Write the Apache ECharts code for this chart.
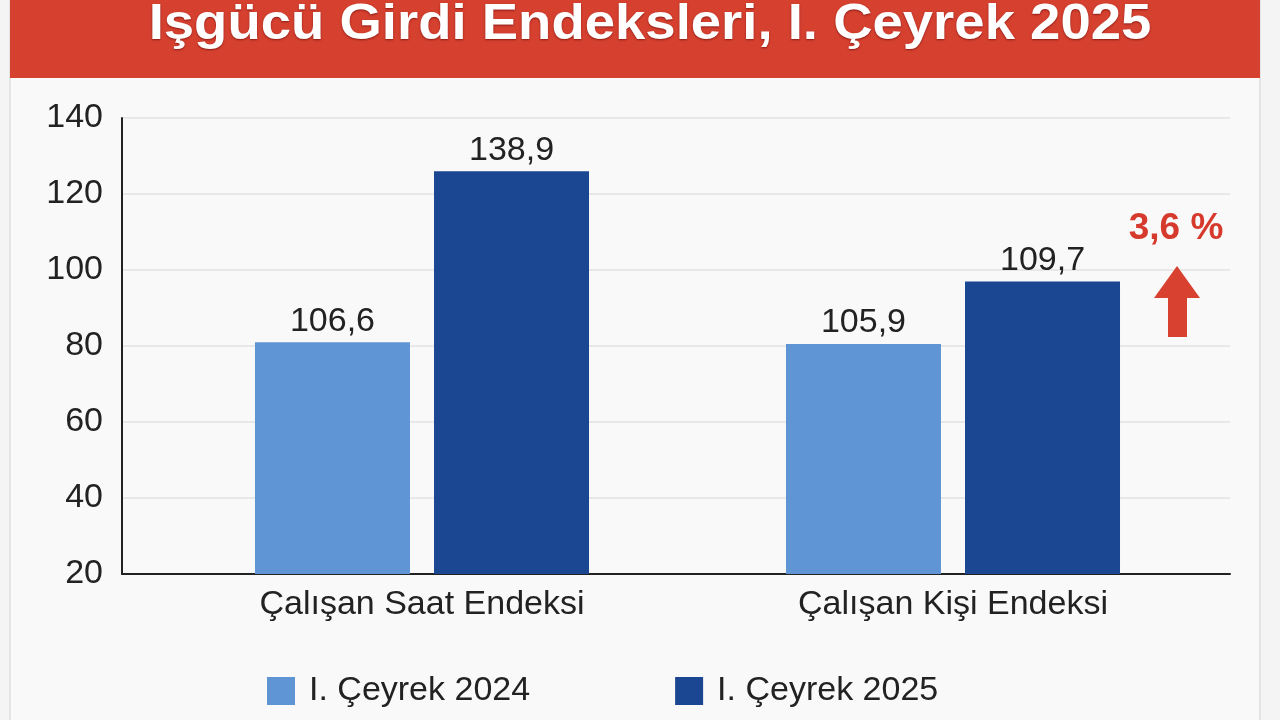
<!DOCTYPE html>
<html>
<head>
<meta charset="utf-8">
<script src="https://cdn.jsdelivr.net/npm/echarts@6/dist/echarts.min.js"></script>
<style>
html,body{margin:0;padding:0;background:#f4f4f4;}
#c{width:1280px;height:720px;}
</style>
</head>
<body>
<div id="c"></div>
<script>
const titleText = 'Işgücü Girdi Endeksleri, I. Çeyrek 2025';
const categories = ['Çalışan Saat Endeksi', 'Çalışan Kişi Endeksi'];
const seriesNames = ['I. Çeyrek 2024', 'I. Çeyrek 2025'];
// bar heights as drawn against the axis in the reference
const bars2024 = [81, 80.5];
const bars2025 = [126, 97];
// value labels printed above the bars
const labels2024 = ['106,6', '105,9'];
const labels2025 = ['138,9', '109,7'];
const changeText = '3,6 %';
const yMin = 20, yMax = 140, yStep = 20;

const FONT = '"Liberation Sans", Arial, sans-serif';
const FS = 34;
const chart = echarts.init(document.getElementById('c'));
chart.setOption({
  backgroundColor: '#f4f4f4',
  animation: false,
  graphic: [
    { type: 'rect', z: -10, shape: { x: 10, y: 0, width: 1250, height: 730 },
      style: { fill: '#f9f9f9', stroke: '#dedede', lineWidth: 1.5 } },
    { type: 'rect', z: 0, shape: { x: 10, y: 0, width: 1250, height: 78 },
      style: { fill: '#d5402f' } },
    { type: 'text', z: 5, x: 650, y: 25, scaleX: 1.09,
      style: { text: titleText, fill: '#ffffff', font: 'bold 50px ' + FONT,
        align: 'center', verticalAlign: 'middle',
        textShadowColor: 'rgba(90,0,0,0.6)', textShadowBlur: 2, textShadowOffsetY: 1 } },
    { type: 'text', z: 5, x: 1176, y: 229,
      style: { text: changeText, fill: '#d63a2c', font: 'bold 37px ' + FONT,
        align: 'center', verticalAlign: 'middle' } },
    { type: 'polygon', z: 5,
      shape: { points: [[1177, 266], [1200, 298], [1187, 298], [1187, 337], [1168, 337], [1168, 298], [1154, 298]] },
      style: { fill: '#d8412f' } }
  ],
  grid: [
    { left: 122, right: 50, top: 118, bottom: 146 },
    { left: 156.5, width: 1062, top: 118, bottom: 146 }
  ],
  legend: {
    bottom: 12, left: 267, padding: 0,
    itemWidth: 28, itemHeight: 28, itemGap: 145,
    icon: 'rect',
    textStyle: { fontSize: FS, color: '#222', fontFamily: FONT, padding: [0, 0, 0, 9] },
    data: seriesNames
  },
  xAxis: [
    { type: 'category', gridIndex: 0, data: categories,
      axisLine: { lineStyle: { color: '#222', width: 2 } },
      axisTick: { show: false }, axisLabel: { show: false } },
    { type: 'category', gridIndex: 1, data: categories,
      axisLine: { show: false },
      axisTick: { show: false },
      axisLabel: { fontSize: FS, color: '#222', fontFamily: FONT, margin: 14 } }
  ],
  yAxis: [
    { type: 'value', gridIndex: 0, min: yMin, max: yMax, interval: yStep,
      axisLine: { show: true, lineStyle: { color: '#222', width: 2 } },
      axisTick: { show: false },
      splitLine: { lineStyle: { color: '#e2e2e2', width: 1.5 } },
      axisLabel: { fontSize: FS, color: '#222', fontFamily: FONT, margin: 19 } },
    { type: 'value', gridIndex: 1, min: yMin, max: yMax, interval: yStep, show: false }
  ],
  series: [
    { name: seriesNames[0], type: 'bar', xAxisIndex: 1, yAxisIndex: 1, data: bars2024,
      barWidth: 155, barGap: '15.5%',
      itemStyle: { color: '#5f95d4' },
      label: { show: true, position: 'top', distance: 4, fontSize: FS, color: '#222', fontFamily: FONT,
        formatter: p => labels2024[p.dataIndex] } },
    { name: seriesNames[1], type: 'bar', xAxisIndex: 1, yAxisIndex: 1, data: bars2025,
      barWidth: 155,
      itemStyle: { color: '#1a4692' },
      label: { show: true, position: 'top', distance: 4, fontSize: FS, color: '#222', fontFamily: FONT,
        formatter: p => labels2025[p.dataIndex] } }
  ]
});
</script>
</body>
</html>
